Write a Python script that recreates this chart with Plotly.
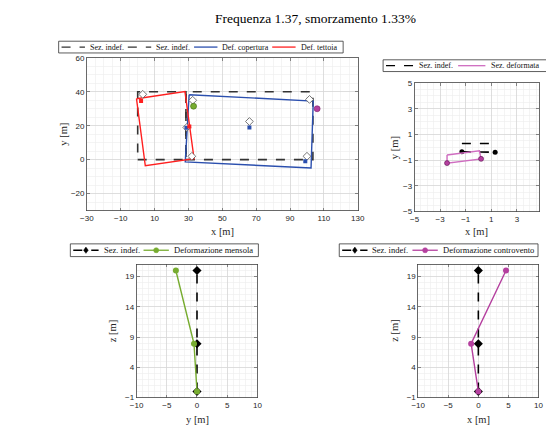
import plotly.graph_objects as go

W, H = 546, 430

# ---------------- data ----------------
# top-left: plan view
tett_undef_x = [0, 28.5, 28.5, 0, 0]
tett_undef_y = [0, 0, 40, 40, 0]
cop_undef_x = [28.5, 103.5, 103.5, 28.5, 28.5]
cop_undef_y = [0, 0, 40, 40, 0]
cop_def_x = [30.4, 103.7, 102.4, 28.1, 30.4]
cop_def_y = [38.3, 34.5, -4.9, -1.3, 38.3]
tett_def_x = [-0.7, 27.9, 33.3, 4.5, -0.7]
tett_def_y = [35.9, 40.2, 0.6, -3.6, 35.9]
node_x = [3.0, 32.5, 66.0, 101.5, 100.0, 32.0, 29.0]
node_y = [38.5, 35.0, 22.5, 35.5, 2.0, 2.0, 19.0]
cop_node_x = [66.0, 99.0, 28.8]
cop_node_y = [19.0, -1.0, 18.8]
tett_node_x = [2.0, 30.5]
tett_node_y = [34.5, 19.5]
mens_node_x = [33.0]
mens_node_y = [31.5]
contr_node_x = [106.0]
contr_node_y = [30.0]

# top-right: section
sec_undef_x = [-1.3, 1.25, 1.25]
sec_undef_y = [0.3, 0.3, 0.1]
sec_undef2_x = [-1.3, 1.3]
sec_undef2_y = [-0.35, -0.38]
sec_def_x = [-2.46, 0.07, 0.2, -2.46, -2.46]
sec_def_y = [-0.6, -0.27, -0.9, -1.23, -0.6]
sec_def_mk_x = [-2.46, 0.2]
sec_def_mk_y = [-1.23, -0.9]

# bottom: elevations
z_levels = [0, 7.9, 20]
undef_h = [0, 0, 0]
mensola_y = [0, -0.5, -3.5]
controvento_x = [0, -1.2, 4.6]

BLUE = "#2b4fae"
RED = "#ff1f1f"
GREEN = "#77ac30"
MAG = "#b5409f"
MAG_L = "#cf6cc0"
DASH = "#333333"
SERIF = "Liberation Serif, Times New Roman, serif"

fig = go.Figure()


def add(x, y, xa, ya, **kw):
    fig.add_trace(go.Scatter(x=x, y=y, xaxis=xa, yaxis=ya, showlegend=False, **kw))


# ----- subplot 1 -----
add(tett_undef_x, tett_undef_y, "x", "y", mode="lines", name="Sez. indef.",
    line=dict(color=DASH, dash="dash", width=1.6))
add(cop_undef_x, cop_undef_y, "x", "y", mode="lines", name="Sez. indef.",
    line=dict(color=DASH, dash="dash", width=1.6))
add(cop_def_x, cop_def_y, "x", "y", mode="lines", name="Def. copertura",
    line=dict(color=BLUE, width=1.4))
add(tett_def_x, tett_def_y, "x", "y", mode="lines", name="Def. tettoia",
    line=dict(color=RED, width=1.4))
add(node_x, node_y, "x", "y", mode="markers",
    marker=dict(symbol="diamond", size=6, color="white", line=dict(color="#555555", width=0.8)))
add(cop_node_x, cop_node_y, "x", "y", mode="markers",
    marker=dict(symbol="square", size=4, color=BLUE))
add(tett_node_x, tett_node_y, "x", "y", mode="markers",
    marker=dict(symbol="square", size=4, color=RED))
add(mens_node_x, mens_node_y, "x", "y", mode="markers",
    marker=dict(symbol="circle", size=6, color=GREEN, line=dict(color="#3d6b10", width=0.6)))
add(contr_node_x, contr_node_y, "x", "y", mode="markers",
    marker=dict(symbol="circle", size=6, color=MAG, line=dict(color="#7a2068", width=0.6)))

# ----- subplot 2 -----
add(sec_undef_x, sec_undef_y, "x2", "y2", mode="lines", name="Sez. indef.",
    line=dict(color="black", dash="dash", width=1.6))
add(sec_undef2_x, sec_undef2_y, "x2", "y2", mode="lines+markers",
    line=dict(color="black", dash="dash", width=1.6),
    marker=dict(symbol="circle", size=5, color="black"))
add(sec_def_x, sec_def_y, "x2", "y2", mode="lines", name="Sez. deformata",
    line=dict(color=MAG_L, width=1.4))
add(sec_def_mk_x, sec_def_mk_y, "x2", "y2", mode="markers",
    marker=dict(symbol="circle", size=5, color=MAG, line=dict(color="#5a1050", width=0.6)))

# ----- subplot 3 -----
add(undef_h, z_levels, "x3", "y3", mode="lines+markers", name="Sez. indef.",
    line=dict(color="black", dash="dash", width=1.6),
    marker=dict(symbol="diamond", size=7, color="black"))
add(mensola_y, z_levels, "x3", "y3", mode="lines+markers", name="Deformazione mensola",
    line=dict(color=GREEN, width=1.4), marker=dict(symbol="circle", size=6, color=GREEN))

# ----- subplot 4 -----
add(undef_h, z_levels, "x4", "y4", mode="lines+markers", name="Sez. indef.",
    line=dict(color="black", dash="dash", width=1.6),
    marker=dict(symbol="diamond", size=7, color="black"))
add(controvento_x, z_levels, "x4", "y4", mode="lines+markers", name="Deformazione controvento",
    line=dict(color=MAG, width=1.4), marker=dict(symbol="circle", size=6, color=MAG))

TICKFONT = dict(family="Liberation Sans, Arial, sans-serif", size=8, color="#262626")


def ax(domain, rng, dtick, tick0, minor_dtick, anchor):
    return dict(domain=domain, range=rng, dtick=dtick, tick0=tick0, anchor=anchor,
                showgrid=True, gridcolor="#d6d6d6", gridwidth=0.8,
                minor=dict(dtick=minor_dtick, tick0=tick0, showgrid=True,
                           gridcolor="#ececec", gridwidth=0.6),
                showline=True, linecolor="#444444", linewidth=0.8, mirror="ticks",
                ticks="inside", ticklen=3, tickcolor="#444444", tickwidth=0.6,
                tickfont=TICKFONT, zeroline=False, fixedrange=True)


def px_x(a, b):
    return [a / W, b / W]


def px_y(top, bottom):
    return [1 - bottom / H, 1 - top / H]


layout = dict(
    width=W, height=H, margin=dict(l=0, r=0, t=0, b=0), showlegend=False,
    paper_bgcolor="white", plot_bgcolor="white",
    xaxis=ax(px_x(82, 360), [-30, 130], 20, -30, 5, "y"),
    yaxis=ax(px_y(55, 211), [-30, 60], 20, -20, 5, "x"),
    xaxis2=ax(px_x(418.3, 546), [-5, 4.73], 2, -5, 0.5, "y2"),
    yaxis2=ax(px_y(80.7, 212), [-5, 5], 2, -5, 0.5, "x2"),
    xaxis3=ax(px_x(133, 257), [-10, 10], 5, -10, 1, "y3"),
    yaxis3=ax(px_y(266, 402), [-1, 21], 5, -1, 1, "x3"),
    xaxis4=ax(px_x(422, 545.5), [-10, 10], 5, -10, 1, "y4"),
    yaxis4=ax(px_y(266, 402), [-1, 21], 5, -1, 1, "x4"),
)

annotations = [
    dict(text="Frequenza 1.37, smorzamento 1.33%", x=317 / W, y=1 - 15 / H,
         font=dict(family=SERIF, size=13.5, color="black")),
    dict(text="x [m]", x=221 / W, y=1 - 232.7 / H),
    dict(text="y [m]", x=58 / W, y=1 - 133 / H, textangle=-90),
    dict(text="x [m]", x=482 / W, y=1 - 232.7 / H),
    dict(text="y [m]", x=398 / W, y=1 - 146.4 / H, textangle=-90),
    dict(text="y [m]", x=195 / W, y=1 - 424 / H),
    dict(text="z [m]", x=108 / W, y=1 - 334 / H, textangle=-90),
    dict(text="x [m]", x=484 / W, y=1 - 424 / H),
    dict(text="z [m]", x=397 / W, y=1 - 334 / H, textangle=-90),
]
for a in annotations:
    a.setdefault("font", dict(family=SERIF, size=10.5, color="#262626"))
    a.update(xref="paper", yref="paper", showarrow=False, xanchor="center", yanchor="middle")

# ------------- compact MATLAB-style legends (drawn as layout decorations) -------------
TIMES_W = {" ": 250, ".": 250, "S": 556, "D": 722, "a": 444, "c": 444, "d": 500, "e": 444,
           "f": 333, "i": 278, "l": 278, "m": 778, "n": 500, "o": 500, "p": 500, "r": 333,
           "s": 389, "t": 278, "u": 500, "v": 500, "z": 444}


def text_w(s, size):
    return sum(TIMES_W.get(c, 500) for c in s) * size / 1000.0


shapes = []


def P(xp, yp):
    return xp / W, 1 - yp / H


def legend_box(left, top, bottom, right, entries, size, sample, gap_in=3, gap_out=6):
    x0, y0 = P(left, bottom)
    x1, y1 = P(right, top)
    shapes.append(dict(type="rect", xref="paper", yref="paper", x0=x0, y0=y0, x1=x1, y1=y1,
                       line=dict(color="#333333", width=0.8), fillcolor="white", layer="above"))
    yc = (top + bottom) / 2
    x = left + 3
    for name, color, dash, sym in entries:
        a0, yy = P(x, yc)
        a1, _ = P(x + sample, yc)
        shapes.append(dict(type="line", xref="paper", yref="paper", x0=a0, x1=a1, y0=yy, y1=yy,
                           line=dict(color=color, width=1.3, dash=dash), layer="above"))
        mx = x + sample / 2
        if sym == "diamond":
            r = 3.2
            pts = [P(mx, yc - r), P(mx + r * 0.75, yc), P(mx, yc + r), P(mx - r * 0.75, yc)]
            path = "M" + " L".join(f"{px:.5f},{py:.5f}" for px, py in pts) + " Z"
            shapes.append(dict(type="path", xref="paper", yref="paper", path=path,
                               fillcolor=color, line=dict(color=color, width=0.5), layer="above"))
        elif sym == "circle":
            r = 2.6
            c0x, c0y = P(mx - r, yc + r)
            c1x, c1y = P(mx + r, yc - r)
            shapes.append(dict(type="circle", xref="paper", yref="paper", x0=c0x, y0=c0y,
                               x1=c1x, y1=c1y, fillcolor=color,
                               line=dict(color=color, width=0.5), layer="above"))
        tx = x + sample + gap_in
        tpx, tpy = P(tx, yc)
        annotations.append(dict(text=name, x=tpx, y=tpy, xref="paper", yref="paper",
                                xanchor="left", yanchor="middle", showarrow=False,
                                font=dict(family=SERIF, size=size, color="#111111")))
        x = tx + text_w(name, size) + gap_out


legend_box(53, 38, 50, 345,
           [("Sez. indef.", DASH, "dash", None), ("Sez. indef.", DASH, "dash", None),
            ("Def. copertura", BLUE, "solid", None), ("Def. tettoia", RED, "solid", None)],
           size=8, sample=24, gap_in=3, gap_out=7)
legend_box(386, 57, 69, 560,
           [("Sez. indef.", "black", "dash", None), ("Sez. deformata", MAG_L, "solid", None)],
           size=8, sample=28, gap_in=4, gap_out=8)
legend_box(65, 245, 258, 258,
           [("Sez. indef.", "black", "dash", "diamond"),
            ("Deformazione mensola", GREEN, "solid", "circle")],
           size=8.5, sample=26, gap_in=3, gap_out=7)
legend_box(341, 245, 258, 545,
           [("Sez. indef.", "black", "dash", "diamond"),
            ("Deformazione controvento", MAG, "solid", "circle")],
           size=8.5, sample=26, gap_in=3, gap_out=7)

layout["annotations"] = annotations
layout["shapes"] = shapes

fig.update_layout(**layout)
fig.write_html("out.html", config={"displayModeBar": False, "staticPlot": True},
               post_script="document.body.style.margin='0px';")
